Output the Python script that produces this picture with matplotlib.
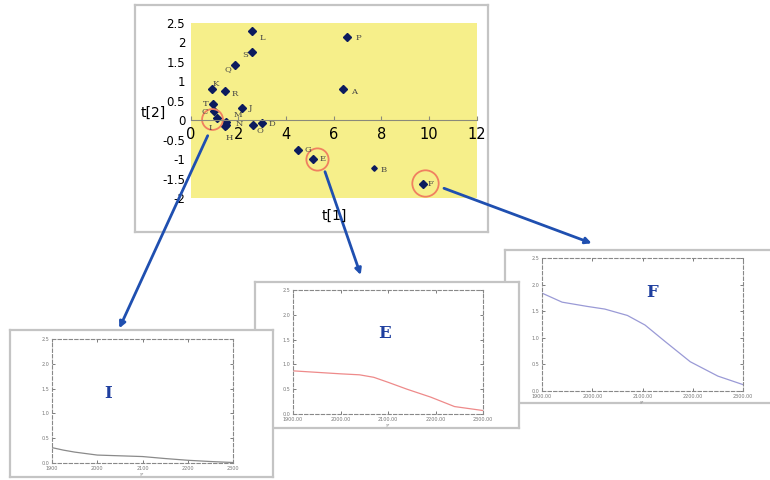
import matplotlib
matplotlib.use("Agg")
import matplotlib.pyplot as plt

W, H = 770, 480

# score plot t[1] / t[2]
names = ["A", "B", "C", "D", "E", "F", "G", "H", "I", "J",
         "K", "L", "M", "N", "O", "P", "Q", "R", "S", "T"]
t1 = [6.38, 7.68, 0.99, 2.98, 5.12, 9.73, 4.49, 1.44, 1.10, 2.14,
      0.89, 2.59, 1.47, 1.47, 2.63, 6.56, 1.86, 1.44, 2.56, 0.92]
t2 = [0.79, -1.23, 0.24, -0.06, -1.00, -1.63, -0.77, -0.16, 0.05, 0.32,
      0.79, 2.29, -0.04, -0.11, -0.11, 2.14, 1.42, 0.75, 1.74, 0.41]
# label offsets in points (dx, dy)
offs = {"A": (8, -2), "B": (7, -1), "C": (-7, -1), "D": (7, -1), "E": (7, 0),
        "F": (6, 0), "G": (7, 0), "H": (3, -8), "I": (-5, -7), "J": (6, 0),
        "K": (3, 4), "L": (7, -5), "M": (9, 5), "N": (10, 0.5), "O": (5, -5),
        "P": (8, -1), "Q": (-5, -3), "R": (7, -2), "S": (-5, -2), "T": (-5, 0)}

# highlighted samples
circ_names = ["I", "E", "F"]
circ_x = [0.88, 5.31, 9.83]
circ_y = [0.02, -0.99, -1.62]
circ_ms = [15, 16, 19]

# trajectories of the highlighted samples
i_years = [1900, 1925, 1950, 1975, 2000, 2050, 2100, 2150, 2200, 2250, 2300]
i_vals = [0.31, 0.26, 0.22, 0.19, 0.16, 0.145, 0.13, 0.09, 0.055, 0.03, 0.01]
e_years = [1900, 1950, 2000, 2040, 2070, 2100, 2140, 2190, 2240, 2300]
e_vals = [0.87, 0.84, 0.81, 0.79, 0.74, 0.64, 0.50, 0.34, 0.15, 0.07]
f_years = [1900, 1940, 1990, 2025, 2070, 2105, 2145, 2195, 2250, 2300]
f_vals = [1.84, 1.67, 1.59, 1.54, 1.42, 1.24, 0.93, 0.55, 0.28, 0.12]

yr_ticks = [1900, 2000, 2100, 2200, 2300]
val_ticks = [0.0, 0.5, 1.0, 1.5, 2.0, 2.5]


def box(x0, y0, x1, y1):
    return [x0 / W, 1 - y1 / H, (x1 - x0) / W, (y1 - y0) / H]


fig = plt.figure(figsize=(W / 100, H / 100), dpi=100)


def frame(rect, z):
    a = fig.add_axes(box(*rect), zorder=z)
    a.set_xticks([])
    a.set_yticks([])
    a.set_facecolor("white")
    for s in a.spines.values():
        s.set_color("#c4c4c4")
        s.set_linewidth(1.6)
    return a


def panel(outer, inner, z, years, vals, color, label, lpos, xlabels):
    frame(outer, z)
    a = fig.add_axes(box(*inner), zorder=z + 0.5)
    a.plot(years, vals, color=color, lw=0.9)
    a.set_xlim(1900, 2300)
    a.set_ylim(0, 2.5)
    a.set_xticks(yr_ticks)
    a.set_xticklabels(xlabels)
    a.set_yticks(val_ticks)
    a.set_yticklabels(["%.1f" % v for v in val_ticks])
    a.tick_params(direction="in", top=True, right=True, length=2, width=0.6,
                  labelsize=3.5, labelcolor="#777", color="#666", pad=2)
    for s in a.spines.values():
        s.set_color("#888")
        s.set_linewidth(0.8)
        s.set_linestyle((0, (3, 2)))
    a.set_xlabel("yr", fontsize=3, color="#888", labelpad=1)
    a.text(lpos[0], lpos[1], label, transform=a.transAxes, fontsize=12,
           fontweight="bold", family="DejaVu Serif", color="#1f3f9f",
           ha="center", va="center")
    return a


panel((505, 250, 776, 403), (542, 258, 743, 391), 1, f_years, f_vals,
      "#9a9ad6", "F", (0.55, 0.74), ["%d.00" % y for y in yr_ticks])
panel((255, 282, 519, 428), (293, 290, 483, 414), 2, e_years, e_vals,
      "#ee8a8a", "E", (0.48, 0.65), ["%d.00" % y for y in yr_ticks])
panel((10, 330, 273, 477), (52, 339, 233, 463), 3, i_years, i_vals,
      "#8a8a8a", "I", (0.31, 0.56), [str(y) for y in yr_ticks])

# main score plot
frame((135, 5, 488, 232), 5)
ax = fig.add_axes(box(190.7, 22.7, 476.7, 198.3), zorder=6)
ax.set_facecolor("#f6ef8a")
ax.set_xlim(0, 12)
ax.set_ylim(-2, 2.5)
for s in ["top", "right", "left"]:
    ax.spines[s].set_visible(False)
ax.spines["bottom"].set_position(("data", 0))
ax.spines["bottom"].set_color("#8a8a7a")
ax.spines["bottom"].set_linewidth(0.8)
ax.set_xticks(range(0, 13, 2))
ax.set_yticks([2.5, 2, 1.5, 1, 0.5, 0, -0.5, -1, -1.5, -2])
ax.set_yticklabels(["2.5", "2", "1.5", "1", "0.5", "0", "-0.5", "-1", "-1.5", "-2"])
ax.tick_params(axis="x", direction="in", length=3, color="#8a8a7a",
               labelsize=10.5, pad=5)
ax.tick_params(axis="y", length=0, labelsize=8.5, pad=4)
for lab in ax.get_xticklabels():
    lab.set_zorder(20)

sizes = [2.8 if n == "B" else 4 for n in names]
for x, y, n, ms in zip(t1, t2, names, sizes):
    ax.plot(x, y, "D", ms=ms, color="#0c1b5e", clip_on=False)
    dx, dy = offs[n]
    ax.annotate(n, (x, y), xytext=(dx, dy), textcoords="offset points",
                fontsize=6, family="DejaVu Serif", color="#444",
                ha="center", va="center")

for x, y, ms in zip(circ_x, circ_y, circ_ms):
    ax.plot(x, y, "o", ms=ms, mfc="none", mec="#f08060", mew=1.3, clip_on=False)

fig.text(153 / W, 1 - 113 / H, "t[2]", fontsize=10, ha="center", va="center",
         zorder=20)
fig.text(334 / W, 1 - 216 / H, "t[1]", fontsize=10, ha="center", va="center",
         zorder=20)

# arrows from circled samples to their panels
ov = fig.add_axes([0, 0, 1, 1], zorder=10)
ov.set_xlim(0, W)
ov.set_ylim(H, 0)
ov.axis("off")
arrows = [((207.7, 135.7), (119.3, 328.3)),
          ((325.0, 171.7), (360.7, 275.0)),
          ((444.0, 188.3), (591.7, 243.3))]
for start, tip in arrows:
    ov.annotate("", xy=tip, xytext=start,
                arrowprops=dict(arrowstyle="-|>", color="#1f4fb0", lw=2,
                                mutation_scale=9, shrinkA=0, shrinkB=0))

fig.savefig("out.png", dpi=100)
